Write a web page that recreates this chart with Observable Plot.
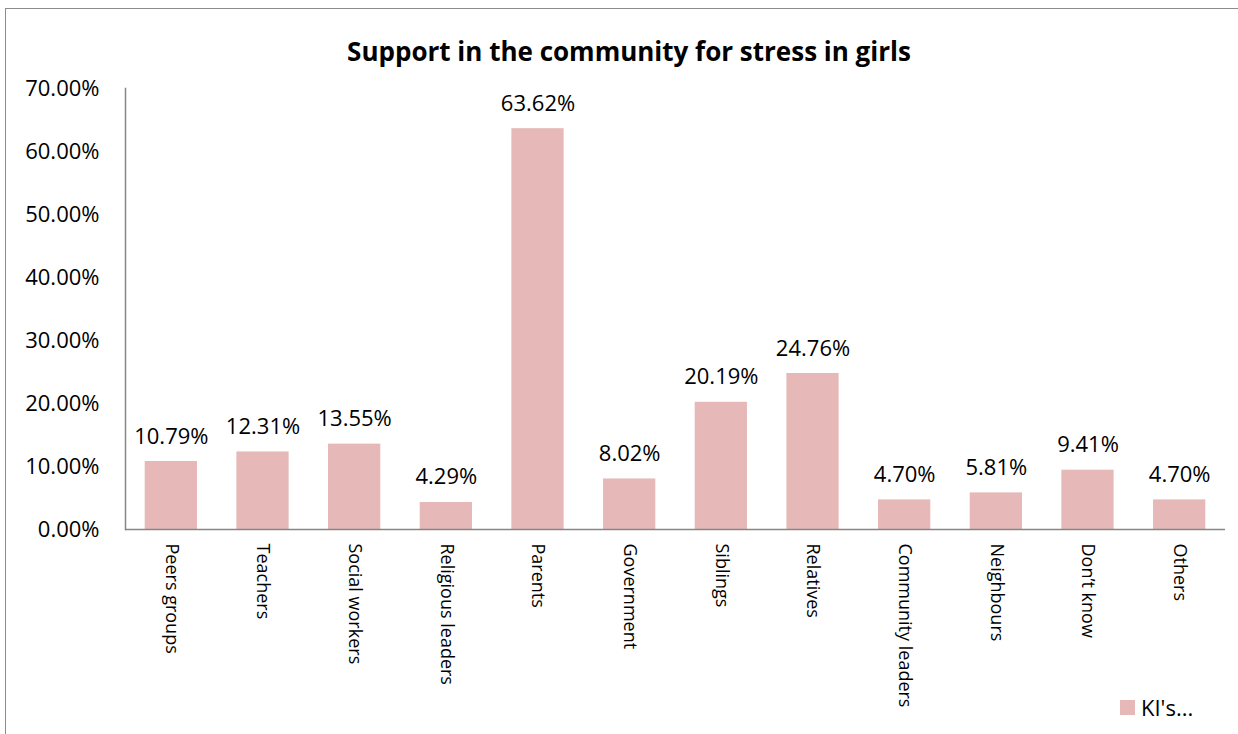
<!DOCTYPE html>
<html>
<head>
<meta charset="utf-8">
<script src="https://cdn.jsdelivr.net/npm/d3@7"></script>
<script src="https://cdn.jsdelivr.net/npm/@observablehq/plot@0.6"></script>
<style>
  html, body { margin: 0; padding: 0; background: #fff; }
  #wrap { position: relative; width: 1238px; height: 734px; overflow: hidden; font-family: "Open Sans", sans-serif; }
  #border { position: absolute; left: 5px; top: 8px; width: 1250px; height: 760px; border: 1.5px solid #8c8c8c; box-sizing: border-box; }
  #title { position: absolute; left: 0; width: 1258px; top: 33px; text-align: center; font-weight: bold; font-size: 26px; line-height: 36px; color: #000; }
  #chart { position: absolute; left: 0; top: 0; }
  #legend { position: absolute; left: 1120px; top: 693px; display: flex; align-items: center; font-size: 22px; line-height: 28px; color: #000; }
  #legend .sw { width: 15px; height: 15px; background: #e6b8b7; margin-right: 6px; }
</style>
</head>
<body>
<div id="wrap">
  <div id="border"></div>
  <div id="chart"></div>
  <div id="title">Support in the community for stress in girls</div>
  <div id="legend"><div class="sw"></div><span>KI's...</span></div>
</div>
<script>
const categories = ["Peers groups", "Teachers", "Social workers", "Religious leaders", "Parents", "Government", "Siblings", "Relatives", "Community leaders", "Neighbours", "Don’t know", "Others"];
const values = [10.79, 12.31, 13.55, 4.29, 63.62, 8.02, 20.19, 24.76, 4.70, 5.81, 9.41, 4.70];
const yTicks = [0, 10, 20, 30, 40, 50, 60, 70];

const data = categories.map((c, i) => ({category: c, value: values[i]}));

const chart = Plot.plot({
  width: 1238,
  height: 734,
  marginTop: 88,
  marginLeft: 125,
  marginRight: 13,
  marginBottom: 205,
  style: {fontFamily: "Open Sans, sans-serif", background: "transparent", overflow: "visible"},
  x: {domain: categories, paddingInner: 0.43, paddingOuter: 0.215, round: false, label: null},
  y: {domain: [0, 70], label: null},
  marks: [
    Plot.barY(data, {x: "category", y: "value", fill: "#e6b8b7"}),
    Plot.frame({anchor: "left", stroke: "#868686", strokeWidth: 1.5}),
    Plot.ruleY([0], {stroke: "#868686", strokeWidth: 1.5}),
    Plot.axisY({ticks: yTicks, tickSize: 0, tickPadding: 26, tickFormat: d => d.toFixed(2) + "%", fontSize: 22, fill: "#000", label: null}),
    Plot.axisX({tickSize: 0, tickPadding: 14, tickRotate: 90, fontSize: 18, fill: "#000", label: null}),
    Plot.text(data, {x: "category", y: "value", text: d => d.value.toFixed(2) + "%", lineAnchor: "bottom", dy: -18, fontSize: 22, fill: "#000"})
  ]
});
document.getElementById("chart").appendChild(chart);
</script>
</body>
</html>
